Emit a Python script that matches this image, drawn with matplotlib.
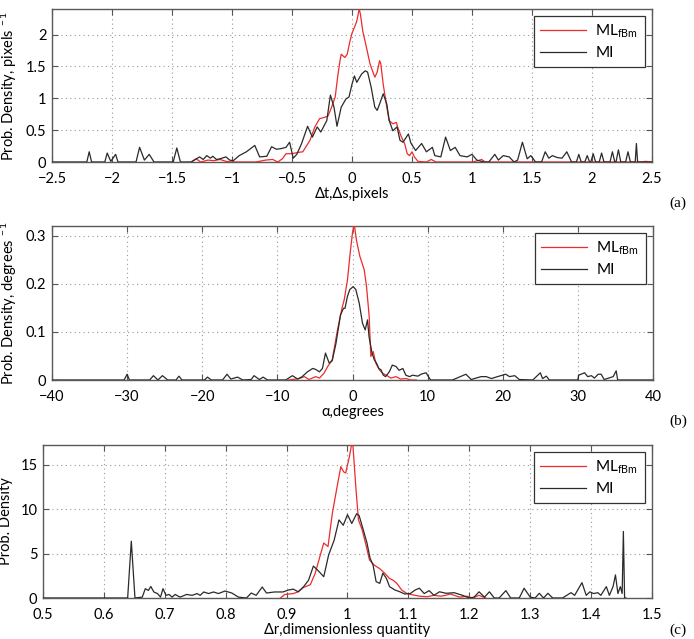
import numpy as np
import matplotlib
matplotlib.use("Agg")
import matplotlib.pyplot as plt

plt.rcParams["font.family"] = ["Lato", "DejaVu Sans"]
plt.rcParams["mathtext.fontset"] = "custom"
plt.rcParams["mathtext.rm"] = "Lato"
plt.rcParams["mathtext.it"] = "Lato:italic"
plt.rcParams["font.size"] = 10.5

# ---- panel (a): translation error, pixels
dt_ml_x = [-1.34, -1.30, -1.26, -1.20, -1.15, -1.10, -1.05, -1.00, -0.80, -0.72,
           -0.66, -0.62, -0.58, -0.55, -0.50, -0.45, -0.41, -0.35, -0.31, -0.27,
           -0.23, -0.20, -0.17, -0.14, -0.12, -0.10, -0.09, -0.06, -0.04, -0.02,
           0.00, 0.02, 0.04, 0.06, 0.07, 0.09, 0.12, 0.15, 0.19, 0.21,
           0.23, 0.24, 0.26, 0.29, 0.31, 0.34, 0.37, 0.38, 0.41, 0.44,
           0.46, 0.48, 0.50, 0.52, 0.55, 0.62, 0.66, 0.70, 1.00, 1.05,
           1.08, 1.11, 2.40, 2.45, 2.50]
dt_ml_y = [0.00, 0.05, 0.00, 0.03, 0.02, 0.04, 0.01, 0.00, 0.00, 0.03,
           0.04, 0.00, 0.05, 0.13, 0.13, 0.15, 0.16, 0.34, 0.55, 0.68,
           0.70, 0.72, 0.86, 1.02, 1.33, 1.59, 1.69, 1.64, 1.69, 1.87,
           2.02, 2.11, 2.21, 2.40, 2.32, 2.05, 1.80, 1.54, 1.33, 1.41,
           1.59, 1.54, 1.22, 0.86, 0.65, 0.60, 0.62, 0.55, 0.40, 0.28,
           0.13, 0.10, 0.16, 0.08, 0.01, 0.00, 0.04, 0.00, 0.00, 0.02,
           0.04, 0.00, 0.00, 0.01, 0.00]
dt_mi_x = [-2.50, -2.21, -2.19, -2.17, -2.06, -2.04, -2.01, -1.97, -1.95, -1.80,
           -1.77, -1.73, -1.69, -1.65, -1.49, -1.46, -1.43, -1.34, -1.27, -1.24,
           -1.21, -1.18, -1.16, -1.13, -1.10, -1.05, -1.02, -0.99, -0.94, -0.88,
           -0.81, -0.77, -0.71, -0.67, -0.63, -0.59, -0.55, -0.52, -0.49, -0.46,
           -0.42, -0.37, -0.33, -0.29, -0.26, -0.21, -0.18, -0.15, -0.125, -0.09,
           -0.05, -0.025, 0.00, 0.02, 0.04, 0.08, 0.11, 0.13, 0.16, 0.19,
           0.21, 0.23, 0.26, 0.29, 0.31, 0.34, 0.375, 0.40, 0.425, 0.47,
           0.49, 0.53, 0.58, 0.62, 0.67, 0.69, 0.74, 0.78, 0.82, 0.86,
           0.90, 0.96, 1.00, 1.04, 1.10, 1.14, 1.19, 1.22, 1.26, 1.31,
           1.35, 1.38, 1.42, 1.46, 1.49, 1.53, 1.58, 1.61, 1.64, 1.67,
           1.71, 1.75, 1.79, 1.83, 1.87, 1.89, 1.91, 1.94, 1.96, 1.98,
           1.99, 2.01, 2.03, 2.06, 2.08, 2.10, 2.15, 2.17, 2.19, 2.20,
           2.22, 2.24, 2.28, 2.30, 2.32, 2.36, 2.37, 2.38, 2.50]
dt_mi_y = [0.00, 0.00, 0.16, 0.00, 0.00, 0.14, 0.01, 0.12, 0.00, 0.00,
           0.23, 0.03, 0.12, 0.00, 0.00, 0.22, 0.00, 0.00, 0.08, 0.04,
           0.10, 0.06, 0.09, 0.04, 0.05, 0.08, 0.03, 0.02, 0.10, 0.16,
           0.26, 0.08, 0.09, 0.24, 0.20, 0.21, 0.23, 0.31, 0.06, 0.12,
           0.29, 0.56, 0.39, 0.55, 0.47, 0.65, 1.05, 0.86, 0.56, 0.86,
           0.99, 1.02, 1.22, 1.35, 1.25, 1.38, 1.43, 1.41, 1.17, 0.86,
           0.81, 0.91, 1.07, 0.91, 0.65, 0.49, 0.55, 0.34, 0.31, 0.44,
           0.30, 0.18, 0.29, 0.16, 0.23, 0.10, 0.08, 0.39, 0.18, 0.23,
           0.10, 0.08, 0.12, 0.03, 0.00, 0.00, 0.12, 0.03, 0.10, 0.08,
           0.00, 0.03, 0.31, 0.05, 0.10, 0.00, 0.00, 0.16, 0.06, 0.10,
           0.07, 0.06, 0.16, 0.00, 0.00, 0.12, 0.00, 0.00, 0.10, 0.00,
           0.00, 0.13, 0.00, 0.00, 0.14, 0.00, 0.00, 0.16, 0.00, 0.00,
           0.19, 0.00, 0.00, 0.16, 0.00, 0.00, 0.29, 0.00, 0.00]

# ---- panel (b): rotation error, degrees
alpha_ml_x = [-8.5, -7.1, -6.4, -5.8, -4.9, -4.4, -3.8, -3.3, -2.7, -2.0,
              -1.4, -1.1, -0.67, -0.31, 0.0, 0.22, 0.53, 0.98, 1.56, 1.87,
              2.22, 2.44, 2.76, 3.1, 3.6, 4.0, 4.5, 5.1, 5.8, 6.4,
              7.1, 7.8, 8.5]
alpha_ml_y = [0.0, 0.003, 0.007, 0.001, 0.007, 0.004, 0.014, 0.028, 0.042, 0.104,
              0.149, 0.167, 0.208, 0.264, 0.306, 0.325, 0.29, 0.257, 0.229, 0.194,
              0.132, 0.049, 0.059, 0.035, 0.021, 0.014, 0.01, 0.004, 0.007, 0.002,
              0.003, 0.0, 0.0]
alpha_mi_x = [-40.0, -30.4, -30.0, -29.7, -27.0, -26.5, -25.9, -25.3, -24.6, -23.5,
              -23.1, -22.7, -19.7, -19.3, -18.8, -17.3, -16.7, -16.2, -15.3, -14.6,
              -13.5, -13.1, -12.4, -11.9, -11.3, -8.9, -8.0, -7.3, -6.7, -6.0,
              -5.3, -4.9, -4.4, -4.0, -3.6, -3.1, -2.7, -2.2, -1.6, -1.2,
              -1.0, -0.67, -0.36, 0.09, 0.44, 0.89, 1.33, 1.69, 2.0, 2.2,
              2.6, 2.9, 3.2, 3.5, 3.8, 4.1, 4.4, 4.9, 5.3, 5.8,
              6.2, 6.7, 7.1, 7.6, 8.0, 8.7, 9.2, 9.8, 10.1, 10.4,
              13.3, 15.1, 15.8, 17.1, 17.8, 18.5, 19.3, 20.4, 20.9, 21.6,
              22.2, 24.0, 25.0, 25.3, 25.8, 26.2, 30.0, 30.1, 30.9, 31.3,
              31.8, 32.2, 32.7, 33.1, 33.5, 34.7, 35.1, 35.3, 40.0]
alpha_mi_y = [0.0, 0.0, 0.012, 0.0, 0.0, 0.009, 0.0, 0.009, 0.0, 0.0,
              0.008, 0.0, 0.0, 0.006, 0.0, 0.0, 0.012, 0.002, 0.006, 0.0,
              0.001, 0.009, 0.001, 0.006, 0.0, 0.0, 0.009, 0.002, 0.007, 0.017,
              0.024, 0.022, 0.017, 0.024, 0.056, 0.035, 0.040, 0.076, 0.135, 0.149,
              0.149, 0.174, 0.188, 0.194, 0.188, 0.160, 0.118, 0.104, 0.125, 0.090,
              0.056, 0.042, 0.035, 0.024, 0.021, 0.010, 0.007, 0.017, 0.031, 0.028,
              0.020, 0.024, 0.010, 0.007, 0.010, 0.008, 0.0125, 0.015, 0.007, 0.0,
              0.0, 0.012, 0.001, 0.007, 0.007, 0.003, 0.007, 0.012, 0.007, 0.009,
              0.001, 0.0, 0.015, 0.003, 0.008, 0.0, 0.0, 0.010, 0.015, 0.007,
              0.009, 0.004, 0.012, 0.012, 0.001, 0.007, 0.019, 0.0, 0.0]

# ---- panel (c): scale error, dimensionless
dr_ml_x = [0.89, 0.897, 0.911, 0.919, 0.928, 0.939, 0.947, 0.956, 0.961, 0.968,
           0.975, 0.982, 0.989, 0.994, 0.997, 1.003, 1.007, 1.009, 1.014, 1.018,
           1.024, 1.031, 1.036, 1.044, 1.053, 1.061, 1.069, 1.075, 1.081, 1.089,
           1.097, 1.108, 1.119, 1.131, 1.142, 1.153, 1.161, 1.169, 1.184, 1.197,
           1.205, 1.216, 1.227]
dr_ml_y = [0.0, 0.4, 0.5, 0.7, 1.2, 1.5, 2.8, 5.0, 6.2, 5.8,
           9.5, 12.2, 14.8, 14.2, 14.1, 15.9, 17.4, 17.1, 12.2, 8.8,
           7.7, 5.8, 4.3, 3.7, 3.3, 2.8, 2.2, 2.0, 1.65, 0.9,
           0.53, 0.34, 0.2, 0.15, 0.3, 0.2, 0.3, 0.45, 0.1, 0.2,
           0.0, 0.3, 0.0]
dr_mi_x = [0.50, 0.639, 0.645, 0.651, 0.663, 0.668, 0.673, 0.677, 0.682, 0.688,
           0.693, 0.697, 0.702, 0.707, 0.712, 0.717, 0.725, 0.736, 0.745, 0.753,
           0.758, 0.764, 0.772, 0.780, 0.788, 0.799, 0.810, 0.821, 0.834, 0.842,
           0.850, 0.860, 0.867, 0.880, 0.894, 0.903, 0.911, 0.919, 0.928, 0.936,
           0.944, 0.953, 0.961, 0.969, 0.978, 0.986, 0.993, 1.000, 1.007, 1.015,
           1.019, 1.025, 1.032, 1.037, 1.042, 1.047, 1.053, 1.058, 1.064, 1.069,
           1.078, 1.086, 1.094, 1.103, 1.111, 1.118, 1.126, 1.134, 1.142, 1.151,
           1.162, 1.175, 1.189, 1.200, 1.208, 1.216, 1.225, 1.233, 1.241, 1.249,
           1.260, 1.268, 1.282, 1.290, 1.300, 1.308, 1.315, 1.322, 1.329, 1.337,
           1.353, 1.367, 1.373, 1.378, 1.385, 1.392, 1.398, 1.404, 1.411, 1.416,
           1.425, 1.430, 1.436, 1.440, 1.444, 1.448, 1.451, 1.453, 1.455, 1.457]
dr_mi_y = [0.0, 0.0, 6.4, 0.0, 0.1, 1.05, 0.85, 1.3, 0.68, 0.5,
           0.1, 1.05, 0.3, 0.4, 0.1, 0.4, 0.1, 0.4, 0.3, 0.5,
           0.3, 0.68, 0.5, 0.68, 0.5, 0.79, 0.56, 0.1, 0.0, 0.56,
           0.3, 1.24, 0.56, 0.68, 0.68, 0.9, 1.0, 0.7, 1.28, 2.0,
           3.6, 3.0, 2.4, 4.85, 6.5, 8.8, 8.2, 9.4, 8.4, 9.5,
           9.3, 7.9, 6.2, 4.5, 3.7, 1.84, 1.65, 2.8, 2.2, 1.28,
           0.9, 0.7, 0.45, 0.5, 0.9, 1.1, 0.5, 0.83, 0.3, 0.7,
           0.53, 0.6, 0.3, 0.0, 0.1, 0.7, 0.1, 0.7, 0.0, 0.0,
           0.83, 0.0, 0.0, 1.1, 0.1, 0.0, 0.53, 0.0, 0.53, 0.0,
           0.0, 0.6, 0.3, 0.9, 1.73, 0.3, 0.7, 0.5, 0.6, 0.3,
           1.28, 0.3, 1.28, 2.6, 0.5, 1.28, 0.5, 7.5, 0.0, 0.0]

panels = [
    dict(ml=(dt_ml_x, dt_ml_y), mi=(dt_mi_x, dt_mi_y), xlim=(-2.5, 2.5), ylim=(0, 2.4),
         xticks=np.arange(-2.5, 2.51, 0.5), yticks=[0, 0.5, 1, 1.5, 2],
         xlabel="Δt,Δs,pixels", ylabel="Prob. Density, pixels$^{\u2009\u2009-1}$",
         rect=[52, 9, 652, 162], tag="(a)", tag_y=203),
    dict(ml=(alpha_ml_x, alpha_ml_y), mi=(alpha_mi_x, alpha_mi_y), xlim=(-40, 40), ylim=(0, 0.32),
         xticks=np.arange(-40, 41, 10), yticks=[0, 0.1, 0.2, 0.3],
         xlabel="α,degrees", ylabel="Prob. Density, degrees$^{\u2009\u2009-1}$",
         rect=[52, 226, 653, 380], tag="(b)", tag_y=421),
    dict(ml=(dr_ml_x, dr_ml_y), mi=(dr_mi_x, dr_mi_y), xlim=(0.5, 1.5), ylim=(0, 17.25),
         xticks=np.arange(0.5, 1.51, 0.1), yticks=[0, 5, 10, 15],
         xlabel="Δr,dimensionless quantity", ylabel="Prob. Density",
         rect=[43, 445, 652, 598], tag="(c)", tag_y=630),
]

W, H = 694, 639
fig = plt.figure(figsize=(W / 100, H / 100), dpi=100)

def fmt(v):
    s = ("%.2f" % v).rstrip("0").rstrip(".")
    return s.replace("-", "\u2212")

for p in panels:
    l, t, r, b = p["rect"]
    ax = fig.add_axes([l / W, 1 - b / H, (r - l) / W, (b - t) / H])
    ax.plot(*p["ml"], color="#ee2b2b", lw=0.9, label=r"ML$_{\mathrm{fBm}}$", zorder=3)
    ax.plot(*p["mi"], color="#2a2a2a", lw=0.9, label="MI", zorder=3)
    ax.set_xlim(*p["xlim"])
    ax.set_ylim(*p["ylim"])
    ax.set_xticks(p["xticks"])
    ax.set_xticklabels([fmt(v) for v in p["xticks"]])
    ax.set_yticks(p["yticks"])
    ax.set_yticklabels([fmt(v) for v in p["yticks"]])
    ax.grid(True, linestyle=(0, (1, 3)), color="#9a9a9a", linewidth=0.8)
    ax.tick_params(direction="in", top=True, right=True, length=4, width=0.8,
                   color="#555555", labelsize=10.5)
    ax.tick_params(axis="x", pad=7)
    ax.tick_params(axis="y", pad=4)
    for s in ax.spines.values():
        s.set_color("#5a5a5a")
        s.set_linewidth(1.0)
    ax.set_xlabel(p["xlabel"], fontsize=10.5, labelpad=1)
    ax.set_ylabel(p["ylabel"], fontsize=10.5, labelpad=5)
    leg = ax.legend(loc="upper right", fontsize=11, handlelength=3.0, borderaxespad=0.45,
                    fancybox=False, framealpha=1, edgecolor="#333333",
                    labelspacing=0.4, handletextpad=0.6, borderpad=0.45)
    leg.get_frame().set_linewidth(0.9)
    fig.text(678 / W, 1 - p["tag_y"] / H, p["tag"], family="Liberation Serif",
             fontsize=11, ha="center", va="center")

fig.savefig("out.png", dpi=100)
